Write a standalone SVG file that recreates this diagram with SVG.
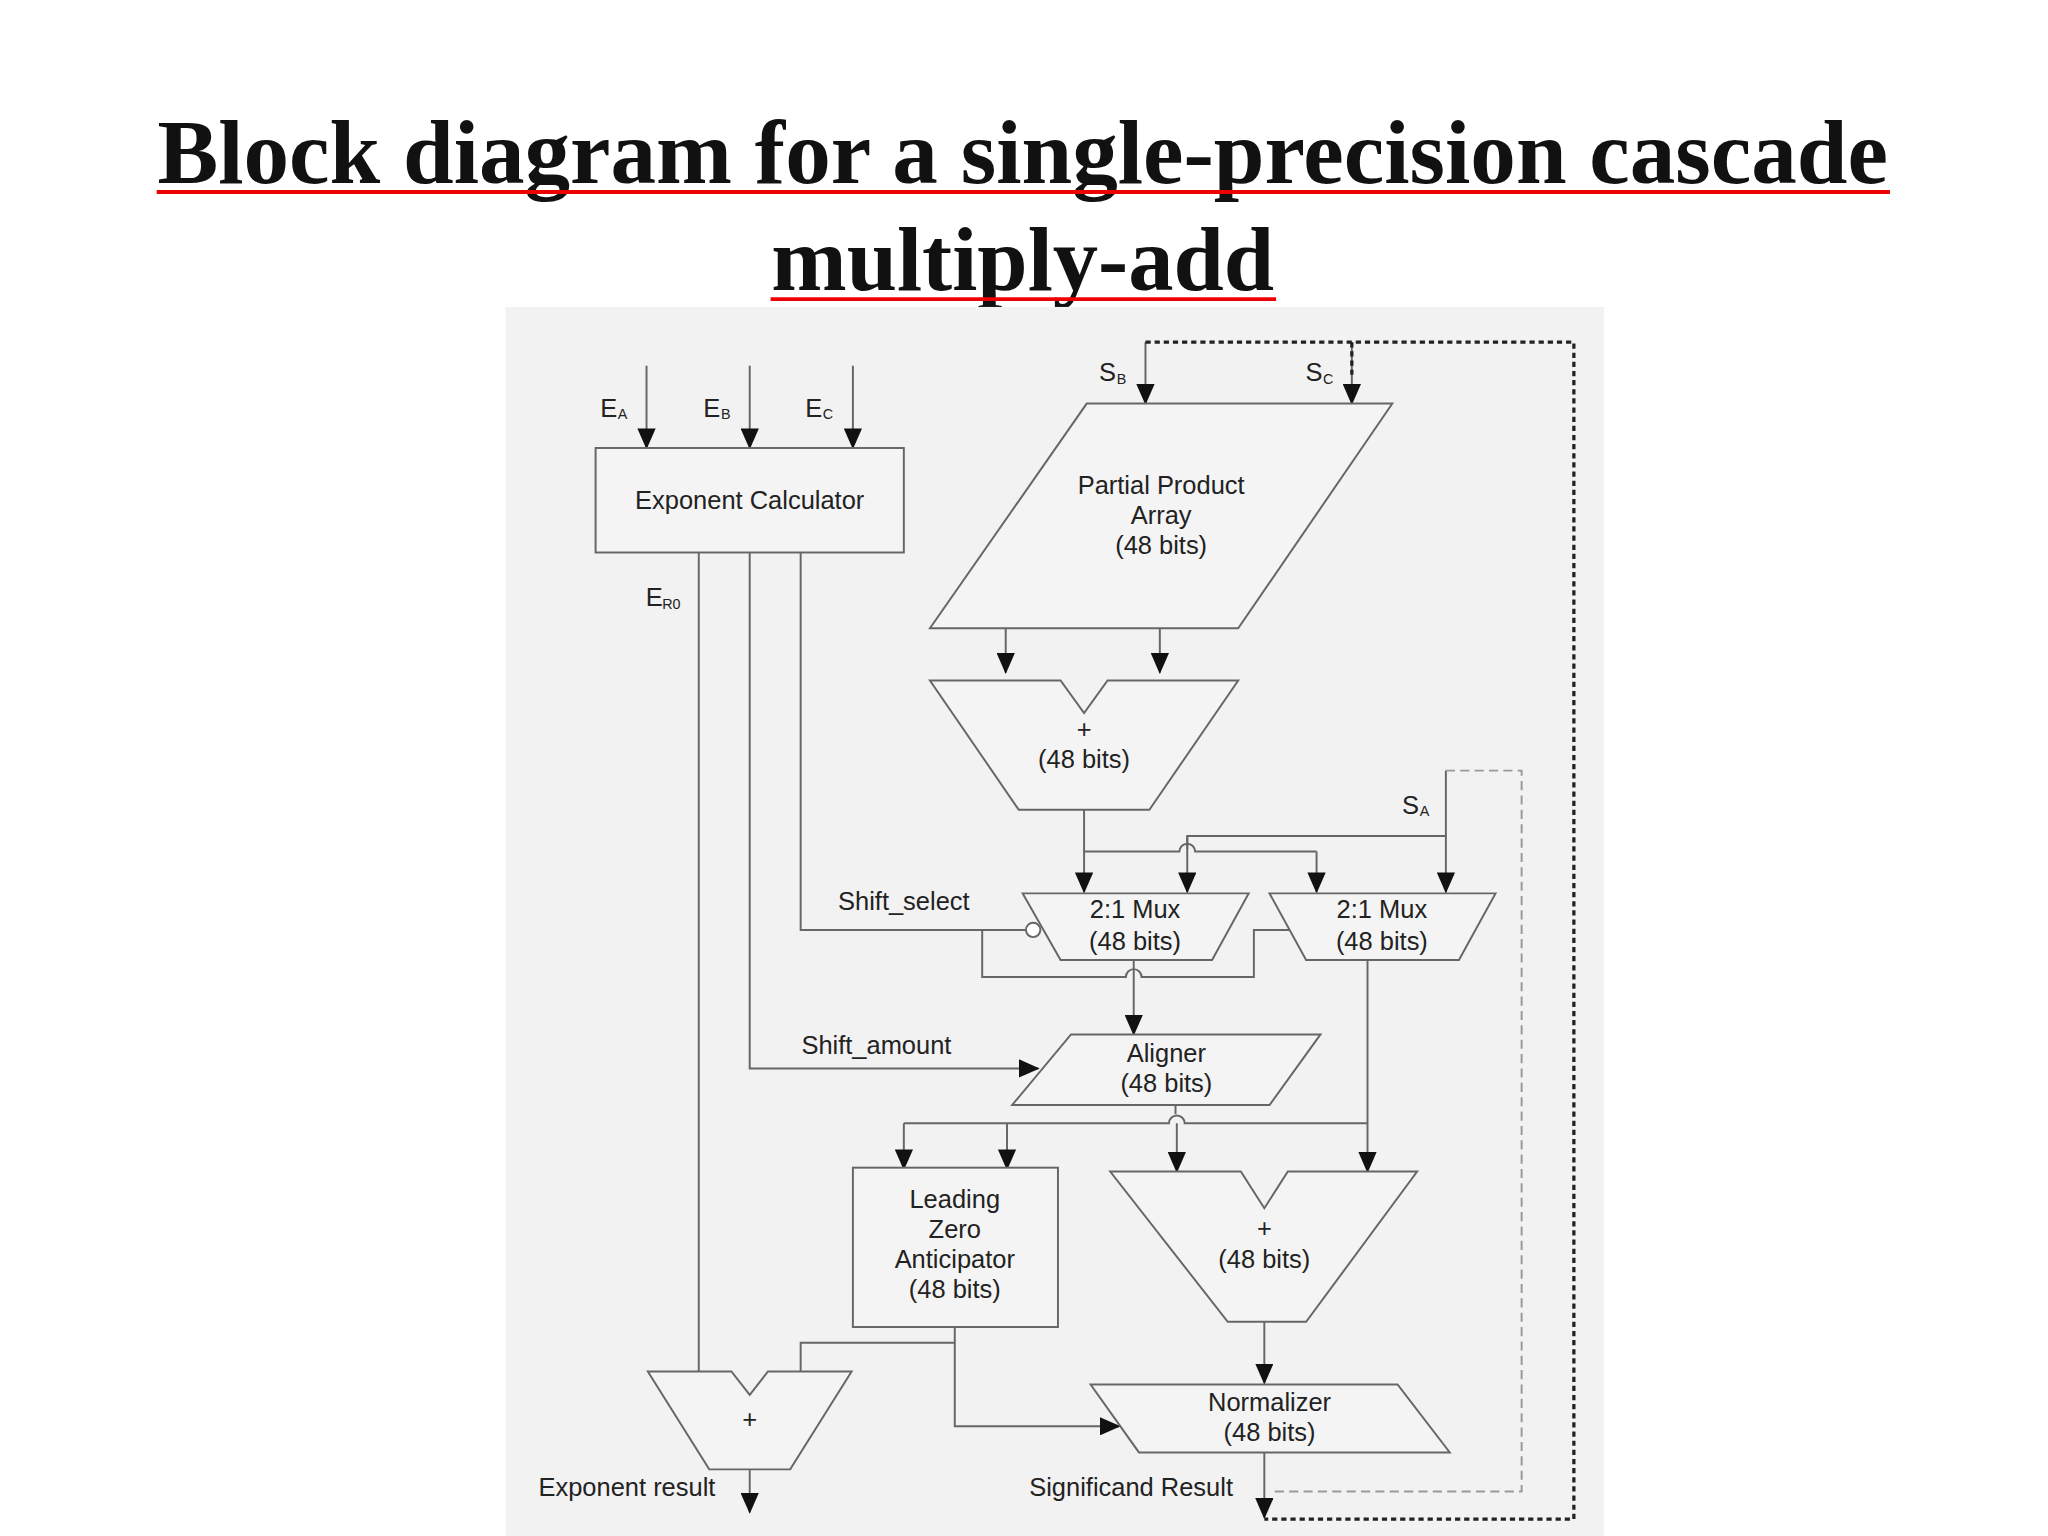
<svg xmlns="http://www.w3.org/2000/svg" width="2048" height="1536" viewBox="0 0 2048 1536">
<defs>
<marker id="ah" markerWidth="16" markerHeight="14" refX="15" refY="7" orient="auto" markerUnits="userSpaceOnUse"><path d="M0,0 L16,7 L0,14 Z" fill="#111"/></marker>
<style>
.t{font-family:"Liberation Sans",Arial,sans-serif;font-size:19.5px;fill:#222;text-anchor:middle}
.s{font-family:"Liberation Sans",Arial,sans-serif;font-size:11px;fill:#222}
.b{fill:#f4f4f4;stroke:#666;stroke-width:1.5}
.l{fill:none;stroke:#666;stroke-width:1.5}
.a{fill:none;stroke:#666;stroke-width:1.5;marker-end:url(#ah)}
.d{fill:none;stroke:#222;stroke-width:2.5;stroke-dasharray:4,3}
.g{fill:none;stroke:#999;stroke-width:1.5;stroke-dasharray:7,4}
.h{font-family:"Liberation Serif","Times New Roman",serif;font-size:70px;font-weight:bold;fill:#111;text-anchor:middle}
</style>
</defs>
<rect width="2048" height="1536" fill="#fff"/>
<g transform="scale(1.30612)">
<g id="title">
<text class="h" x="783" y="140" textLength="1325" lengthAdjust="spacingAndGlyphs">Block diagram for a single-precision cascade</text>
<line x1="120" y1="147" x2="1447" y2="147" stroke="#e00" stroke-width="3"/>
<text class="h" x="783" y="222" textLength="385" lengthAdjust="spacingAndGlyphs">multiply-add</text>
<line x1="590" y1="229" x2="977" y2="229" stroke="#e00" stroke-width="3"/>
</g>
<rect x="387" y="235" width="841" height="941" fill="#f2f2f2"/>
<g id="connectors">
<path class="a" d="M495,280V343"/><path class="a" d="M574,280V343"/><path class="a" d="M653,280V343"/>
<path class="a" d="M877,262V309"/><path class="a" d="M1035,262V309"/>
<path class="d" d="M877,262H1205V1163H968"/><path class="d" d="M1035,262V290"/>
<path class="a" d="M770,481V515"/><path class="a" d="M888,481V515"/>
<path class="a" d="M830,620V683"/>
<path class="l" d="M830,652H903a6,6 0 0 1 12,0H1008"/><path class="a" d="M1008,652V683"/>
<path class="l" d="M1107,590V640H909V650"/><path class="a" d="M909,640V683"/><path class="a" d="M1107,640V683"/>
<path class="g" d="M1107,590H1165V1142H975"/>
<path class="l" d="M613,423V712H785"/><circle cx="791" cy="712" r="5.5" fill="#fff" stroke="#666" stroke-width="1.5"/>
<path class="l" d="M752,712V748H862a6,6 0 0 1 12,0H960V712H988"/>
<path class="a" d="M868,735V792"/>
<path class="a" d="M574,423V818H795"/>
<path class="l" d="M535,423V1050"/>
<path class="a" d="M1047,735V897"/>
<path class="l" d="M900,846V853"/>
<path class="l" d="M692,860H895a6,6 0 0 1 12,0H1047"/>
<path class="a" d="M692,860V895"/><path class="a" d="M771,860V895"/><path class="a" d="M901,860V897"/>
<path class="a" d="M968,1012V1059"/>
<path class="a" d="M731,1016V1092H857"/>
<path class="l" d="M731,1028H613V1050"/>
<path class="a" d="M574,1125V1158"/>
<path class="a" d="M968,1112V1162"/>
</g>
<g id="expcalc"><rect class="b" x="456" y="343" width="236" height="80"/><text class="t" x="574" y="390">Exponent Calculator</text></g>
<g id="labels">
<text class="t" x="466" y="319">E</text><text class="s" x="473" y="321">A</text>
<text class="t" x="545" y="319">E</text><text class="s" x="552" y="321">B</text>
<text class="t" x="623" y="319">E</text><text class="s" x="630" y="321">C</text>
<text class="t" x="848" y="292">S</text><text class="s" x="855" y="294">B</text>
<text class="t" x="1006" y="292">S</text><text class="s" x="1013" y="294">C</text>
<text class="t" x="1080" y="623">S</text><text class="s" x="1087" y="625">A</text>
<text class="t" x="501" y="464">E</text><text class="s" x="507" y="466">R0</text>
<text class="t" x="692" y="697">Shift_select</text>
<text class="t" x="671" y="807">Shift_amount</text>
<text class="t" x="480" y="1145">Exponent result</text>
<text class="t" x="866" y="1145">Significand Result</text>
</g>
<g id="ppa"><polygon class="b" points="832,309 1066,309 948,481 712,481"/><text class="t" x="889" y="378">Partial Product</text><text class="t" x="889" y="401">Array</text><text class="t" x="889" y="424">(48 bits)</text></g>
<g id="adder1"><polygon class="b" points="712,521 812,521 830,546 848,521 948,521 880,620 780,620"/><text class="t" x="830" y="565">+</text><text class="t" x="830" y="588">(48 bits)</text></g>
<g id="mux1"><polygon class="b" points="783,684 956,684 928,735 812,735"/><text class="t" x="869" y="703">2:1 Mux</text><text class="t" x="869" y="727">(48 bits)</text></g>
<g id="mux2"><polygon class="b" points="972,684 1145,684 1117,735 1000,735"/><text class="t" x="1058" y="703">2:1 Mux</text><text class="t" x="1058" y="727">(48 bits)</text></g>
<g id="aligner"><polygon class="b" points="820,792 1011,792 972,846 775,846"/><text class="t" x="893" y="813">Aligner</text><text class="t" x="893" y="836">(48 bits)</text></g>
<g id="lza"><rect class="b" x="653" y="894" width="157" height="122"/><text class="t" x="731" y="925">Leading</text><text class="t" x="731" y="948">Zero</text><text class="t" x="731" y="971">Anticipator</text><text class="t" x="731" y="994">(48 bits)</text></g>
<g id="adder2"><polygon class="b" points="850,897 950,897 968,925 986,897 1085,897 1000,1012 940,1012"/><text class="t" x="968" y="947">+</text><text class="t" x="968" y="971">(48 bits)</text></g>
<g id="normalizer"><polygon class="b" points="835,1060 1070,1060 1110,1112 872,1112"/><text class="t" x="972" y="1080">Normalizer</text><text class="t" x="972" y="1103">(48 bits)</text></g>
<g id="expadder"><polygon class="b" points="496,1050 560,1050 574,1068 588,1050 652,1050 605,1125 543,1125"/><text class="t" x="574" y="1093">+</text></g>
</g>
</svg>
